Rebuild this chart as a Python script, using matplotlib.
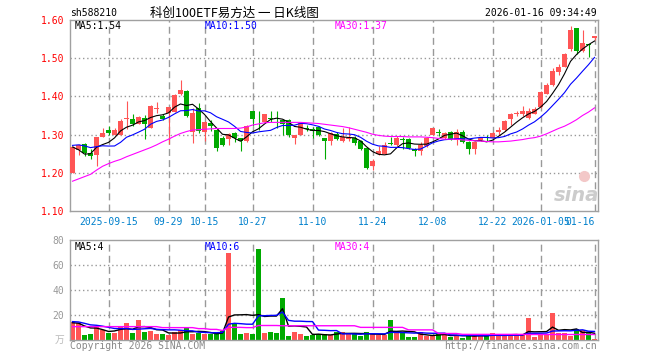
import matplotlib.pyplot as plt
import numpy as np
import pandas as pd

plt.rcParams['font.family'] = ['DejaVu Sans Mono', 'Noto Sans CJK SC']

# daily bars of sh588210, 2025-09-05 .. 2026-01-16
open_ = [1.200, 1.260, 1.275, 1.253, 1.246, 1.295, 1.311, 1.300, 1.300, 1.341,
         1.340, 1.329, 1.343, 1.318, 1.367, 1.349, 1.356, 1.360, 1.406, 1.413,
         1.307, 1.369, 1.307, 1.330, 1.311, 1.290, 1.288, 1.304, 1.290, 1.283,
         1.362, 1.341, 1.333, 1.343, 1.342, 1.338, 1.338, 1.292, 1.300, 1.317,
         1.315, 1.319, 1.290, 1.283, 1.301, 1.282, 1.288, 1.290, 1.283, 1.264,
         1.219, 1.250, 1.250, 1.277, 1.274, 1.289, 1.288, 1.263, 1.257, 1.270,
         1.300, 1.306, 1.290, 1.307, 1.285, 1.307, 1.281, 1.262, 1.285, 1.293,
         1.292, 1.307, 1.313, 1.341, 1.354, 1.355, 1.343, 1.355, 1.371, 1.407,
         1.430, 1.465, 1.478, 1.523, 1.578, 1.519, 1.537, 1.552]
high = [1.270, 1.275, 1.279, 1.262, 1.295, 1.317, 1.323, 1.316, 1.340, 1.389,
        1.353, 1.348, 1.352, 1.377, 1.386, 1.353, 1.373, 1.407, 1.443, 1.416,
        1.370, 1.382, 1.335, 1.339, 1.313, 1.296, 1.303, 1.306, 1.292, 1.325,
        1.363, 1.362, 1.355, 1.362, 1.362, 1.340, 1.340, 1.300, 1.334, 1.325,
        1.320, 1.322, 1.292, 1.306, 1.307, 1.318, 1.320, 1.296, 1.285, 1.268,
        1.237, 1.270, 1.281, 1.294, 1.297, 1.294, 1.290, 1.265, 1.280, 1.294,
        1.318, 1.314, 1.306, 1.310, 1.314, 1.312, 1.283, 1.283, 1.292, 1.300,
        1.306, 1.319, 1.337, 1.357, 1.361, 1.374, 1.370, 1.371, 1.414, 1.435,
        1.474, 1.484, 1.513, 1.583, 1.580, 1.574, 1.537, 1.558]
low = [1.200, 1.246, 1.244, 1.235, 1.219, 1.295, 1.300, 1.300, 1.300, 1.314,
       1.323, 1.327, 1.289, 1.316, 1.357, 1.337, 1.276, 1.358, 1.404, 1.345,
       1.277, 1.305, 1.283, 1.310, 1.257, 1.270, 1.272, 1.280, 1.257, 1.280,
       1.322, 1.311, 1.330, 1.332, 1.318, 1.300, 1.293, 1.276, 1.298, 1.310,
       1.290, 1.297, 1.235, 1.272, 1.285, 1.280, 1.283, 1.273, 1.260, 1.210,
       1.207, 1.247, 1.248, 1.272, 1.270, 1.262, 1.261, 1.245, 1.246, 1.268,
       1.298, 1.296, 1.288, 1.285, 1.272, 1.278, 1.249, 1.249, 1.283, 1.283,
       1.290, 1.300, 1.310, 1.326, 1.348, 1.348, 1.341, 1.353, 1.369, 1.405,
       1.428, 1.455, 1.476, 1.520, 1.510, 1.516, 1.504, 1.548]
close = [1.268, 1.274, 1.253, 1.244, 1.295, 1.303, 1.303, 1.312, 1.335, 1.344,
         1.329, 1.346, 1.329, 1.375, 1.369, 1.340, 1.371, 1.404, 1.417, 1.349,
         1.356, 1.309, 1.333, 1.323, 1.266, 1.273, 1.301, 1.290, 1.283, 1.323,
         1.340, 1.340, 1.353, 1.342, 1.340, 1.327, 1.300, 1.298, 1.331, 1.315,
         1.310, 1.300, 1.283, 1.304, 1.289, 1.294, 1.292, 1.279, 1.263, 1.213,
         1.231, 1.256, 1.272, 1.276, 1.290, 1.287, 1.266, 1.257, 1.273, 1.292,
         1.316, 1.305, 1.304, 1.288, 1.307, 1.281, 1.262, 1.281, 1.290, 1.291,
         1.303, 1.313, 1.335, 1.355, 1.356, 1.361, 1.363, 1.368, 1.411, 1.430,
         1.467, 1.478, 1.510, 1.574, 1.519, 1.539, 1.535, 1.558]
# volume, 万手
volume = [14.1, 13.3, 4.0, 4.8, 11.5, 8.0, 5.9, 5.9, 11.2, 13.9,
          5.9, 16.0, 6.7, 7.5, 5.0, 5.0, 4.0, 6.1, 8.0, 9.9,
          5.0, 5.6, 5.0, 4.5, 5.0, 7.5, 69.9, 13.3, 5.0, 5.9,
          4.5, 72.8, 5.9, 6.7, 5.9, 33.9, 3.2, 6.7, 5.0, 3.2,
          4.0, 4.5, 4.5, 4.0, 6.7, 6.7, 4.5, 4.8, 3.2, 6.7,
          4.5, 4.0, 4.0, 16.0, 5.9, 5.9, 2.4, 2.4, 6.7, 3.2,
          3.2, 4.5, 4.5, 2.4, 4.0, 1.9, 4.0, 3.2, 4.0, 3.2,
          5.9, 4.0, 4.0, 4.0, 4.0, 4.0, 17.9, 2.7, 4.5, 4.5,
          21.9, 5.3, 5.3, 3.2, 8.5, 7.7, 6.7, 0.8]

# the days just before the window, so MA5/MA10 start right
prev_close = [1.26, 1.28, 1.29, 1.27, 1.28, 1.31, 1.31, 1.24, 1.21]
prev_volume = [16, 15, 17, 15, 15, 15, 15.3, 12.5, 12.1]

# MA30 lines
ma30 = [1.178, 1.184, 1.190, 1.196, 1.207, 1.217, 1.224, 1.230, 1.235, 1.242,
        1.248, 1.254, 1.260, 1.266, 1.273, 1.281, 1.288, 1.296, 1.303, 1.308,
        1.312, 1.313, 1.314, 1.315, 1.316, 1.316, 1.316, 1.316, 1.317, 1.320,
        1.325, 1.328, 1.331, 1.332, 1.332, 1.332, 1.332, 1.332, 1.332, 1.331,
        1.330, 1.329, 1.327, 1.325, 1.323, 1.321, 1.318, 1.314, 1.310, 1.306,
        1.301, 1.298, 1.296, 1.295, 1.295, 1.295, 1.294, 1.294, 1.294, 1.293,
        1.292, 1.290, 1.288, 1.288, 1.288, 1.286, 1.285, 1.284, 1.283, 1.282,
        1.281, 1.281, 1.282, 1.283, 1.285, 1.287, 1.290, 1.292, 1.296, 1.302,
        1.309, 1.316, 1.322, 1.330, 1.339, 1.350, 1.359, 1.370]
vol_ma30 = [10.7] * 15 + [9.9] * 6 + [9.1, 9.1, 8.5, 8.5, 7.6, 10.1, 10.1, 10.1,
            9.9, 9.9, 11.6, 11.6, 11.6, 11.6] + [11.4] * 13 + [10.1] * 8 + \
           [8.1] * 5 + [5.2] * 4 + [4.5] * 11 + [4.4] * 12

tick_idx = [6, 16, 22, 30, 40, 50, 60, 70, 78, 87]
tick_labels = ['2025-09-15', '09-29', '10-15', '10-27', '11-10', '11-24',
               '12-08', '12-22', '2026-01-05', '01-16']
price_grid = [1.20, 1.30, 1.40, 1.50]
vol_grid = [20, 40, 60]

RED = '#ff5555'
GREEN = '#00aa00'
GRID = '#999999'

x = np.arange(len(close))
o = np.array(open_)
c = np.array(close)
up = c >= o
colors = np.where(up, RED, GREEN)

cs = pd.Series(prev_close + close)
ma5 = cs.rolling(5).mean().iloc[len(prev_close):].values
ma10 = cs.rolling(10).mean().iloc[len(prev_close):].values
vs = pd.Series(prev_volume + volume)
vma5 = vs.rolling(5).mean().iloc[len(prev_volume):].values
vma10 = vs.rolling(10).mean().iloc[len(prev_volume):].values

W, H = 660, 360
fig = plt.figure(figsize=(6.6, 3.6), dpi=100)
ax = fig.add_axes([70 / W, 1 - 211 / H, 528 / W, 191 / H])
vax = fig.add_axes([70 / W, 1 - 340 / H, 528 / W, 100 / H])
xmin, xmax = -0.42, len(close) - 0.42

# candles
ax.vlines(x, low, high, color=colors, lw=0.8, zorder=2)
body = np.maximum(np.abs(c - o), 0.0012)
ax.bar(x, body, bottom=np.minimum(o, c), width=0.78, color=colors, zorder=3)
ax.plot(x, ma5, color='black', lw=0.8, zorder=4)
ax.plot(x, ma10, color='#0000ff', lw=0.8, zorder=4)
ax.plot(x, ma30, color='#ff00ff', lw=0.8, zorder=4)

ax.set_ylim(1.10, 1.60)
yt = [1.10, 1.20, 1.30, 1.40, 1.50, 1.60]
ax.set_yticks(yt)
ax.set_yticklabels(['%.2f' % v for v in yt], color='#ff0000', fontsize=7)
ax.set_xticks(tick_idx)
ax.set_xticklabels(tick_labels, color='#0080cc', fontsize=7)
ax.get_xticklabels()[-1].set_ha('right')

# volume
vax.bar(x, volume, width=0.8, color=colors, zorder=2)
vax.plot(x, vma5, color='black', lw=1.0, zorder=3)
vax.plot(x, vma10, color='#0000ff', lw=1.0, zorder=3)
vax.plot(x, vol_ma30, color='#ff00ff', lw=1.0, zorder=3)
vax.set_ylim(0, 80)
vt = [20, 40, 60, 80]
vax.set_yticks(vt)
vax.set_yticklabels([str(v) for v in vt], color='#999999', fontsize=7)
vax.set_xticks([])

for a, levels in ((ax, price_grid), (vax, vol_grid)):
    a.set_xlim(xmin, xmax)
    for s in a.spines.values():
        s.set_color('#a0a0a0')
        s.set_linewidth(1.0)
    a.tick_params(length=0, pad=4)
    # dashed date lines and dotted level lines
    for t in tick_idx:
        a.axvline(t, color=GRID, lw=1.0, ls=(0, (5, 3)), zorder=1.5)
    for v in levels:
        a.axhline(v, color=GRID, lw=1.0, ls=(0, (1, 2)), zorder=1.5)


def px(xp, yp, s, **kw):
    fig.text(xp / W, 1 - yp / H, s, va='center', **kw)


px(70, 13, 'sh588210', fontsize=7)
px(150, 13, '科创100ETF易方达 一 日K线图', fontsize=9,
   family=['Noto Sans CJK SC', 'DejaVu Sans'])
px(597, 13, '2026-01-16 09:34:49', fontsize=7, ha='right')

px(75, 26, 'MA5:1.54', fontsize=7, color='black')
px(205, 26, 'MA10:1.50', fontsize=7, color='#0000ff')
px(335, 26, 'MA30:1.37', fontsize=7, color='#ff00ff')
px(75, 247, 'MA5:4', fontsize=7, color='black')
px(205, 247, 'MA10:6', fontsize=7, color='#0000ff')
px(335, 247, 'MA30:4', fontsize=7, color='#ff00ff')

px(64, 340, '万', fontsize=7, color='#bbbbbb', ha='right',
   family=['Noto Sans CJK SC', 'DejaVu Sans'])
px(70, 346, 'Copyright 2026 SINA.COM', fontsize=7, color='#888888')
px(597, 346, 'http://finance.sina.com.cn', fontsize=7, color='#888888', ha='right')
px(576, 196, 'sina', fontsize=14, color='#cccccc', ha='center',
   fontweight='bold', style='italic', family='DejaVu Sans')
fig.add_artist(plt.Line2D([584 / W], [1 - 176 / H], marker='o', ms=7,
                          color='#f3c8c8', transform=fig.transFigure))

fig.savefig('out.png', dpi=100)
